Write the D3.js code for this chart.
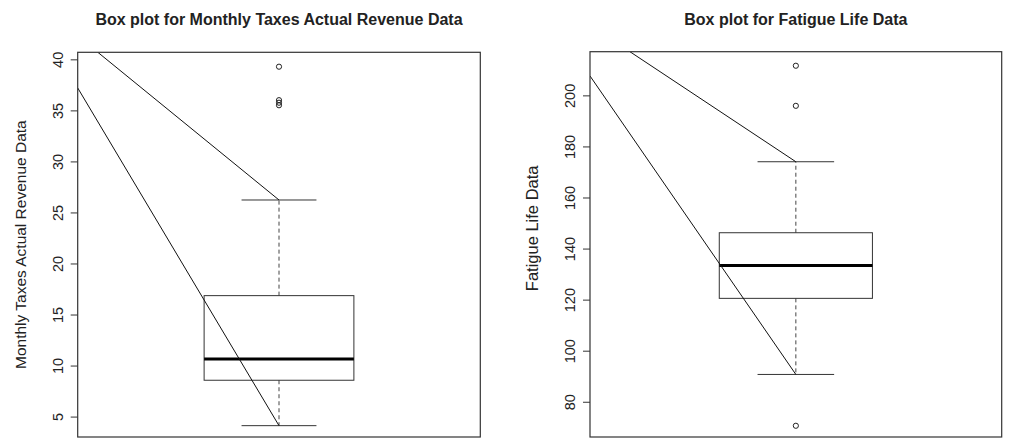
<!DOCTYPE html>
<html>
<head>
<meta charset="utf-8">
<script src="https://cdn.jsdelivr.net/npm/d3@7"></script>
<style>
  html, body { margin: 0; padding: 0; background: #fff; }
  svg { display: block; }
  text { font-family: "Liberation Sans", Arial, Helvetica, sans-serif; fill: #222; }
</style>
</head>
<body>
<svg id="chart" width="1010" height="440"></svg>
<script>
// Panel titles and y-axis titles
const panelTitles = ["Box plot for Monthly Taxes Actual Revenue Data", "Box plot for Fatigue Life Data"];
const axisTitles = ["Monthly Taxes Actual Revenue Data", "Fatigue Life Data"];

// Five-number summaries: lower whisker, Q1, median, Q3, upper whisker
const taxesStats = [4.11, 8.56, 10.65, 16.85, 26.22];
const fatigueStats = [90.7, 120.5, 133.4, 146.2, 174.0];

// Points beyond the whiskers
const taxesOutliers = [39.28, 36.0, 35.75, 35.5];
const fatigueOutliers = [211.6, 195.9, 70.6];

// Tick labels on the value axes
const taxesTicks = [5, 10, 15, 20, 25, 30, 35, 40];
const fatigueTicks = [80, 100, 120, 140, 160, 180, 200];

// Visible value range of each panel
const taxesRange = [3.0, 40.69];
const fatigueRange = [66.2, 217.1];

// Pointer lines: start point [x position, value], drawn to the lower / upper whisker ends
const taxesPointers = [[0.5, 37.2], [0.55, 40.69]];
const fatiguePointers = [[0.5, 207.6], [0.597, 217.1]];

const svg = d3.select("#chart");

const panels = [
  { title: panelTitles[0], ylab: axisTitles[0], stats: taxesStats, out: taxesOutliers,
    ticks: taxesTicks, range: taxesRange, pointers: taxesPointers,
    left: 77.7, right: 480.3, top: 52.3, bottom: 437, labSize: 15.5, labShift: 0 },
  { title: panelTitles[1], ylab: axisTitles[1], stats: fatigueStats, out: fatigueOutliers,
    ticks: fatigueTicks, range: fatigueRange, pointers: fatiguePointers,
    left: 590, right: 1001.7, top: 51.7, bottom: 437, labSize: 16.5, labShift: -16 }
];

const boxHalf = 0.186;   // half box width in x units
const stapleHalf = 0.093;

panels.forEach((p, i) => {
  const x = d3.scaleLinear().domain([0.5, 1.5]).range([p.left, p.right]);
  const y = d3.scaleLinear().domain(p.range).range([p.bottom, p.top]);
  const g = svg.append("g");
  const cx = (p.left + p.right) / 2;
  const cy = (p.top + p.bottom) / 2;

  // title
  g.append("text")
    .attr("x", cx).attr("y", 25)
    .attr("text-anchor", "middle")
    .style("font-weight", "bold")
    .style("font-size", "16px")
    .text(p.title);

  // y axis title
  g.append("text")
    .attr("transform", `translate(${p.left - 52},${cy + p.labShift}) rotate(-90)`)
    .attr("text-anchor", "middle")
    .style("font-size", p.labSize + "px")
    .text(p.ylab);

  // y axis
  const axis = d3.axisLeft(y).tickValues(p.ticks).tickSize(7).tickPadding(0);
  const ag = g.append("g").attr("transform", `translate(${p.left},0)`).call(axis);
  ag.select(".domain").remove();
  ag.selectAll(".tick line").attr("stroke", "#333");
  ag.selectAll(".tick text")
    .attr("x", 0).attr("dy", null)
    .attr("y", -15)
    .attr("transform", "rotate(-90)")
    .attr("text-anchor", "middle")
    .style("font-size", "14.5px")
    .style("fill", "#222");

  // clip region for the plot area
  const clipId = "clip" + i;
  svg.append("clipPath").attr("id", clipId)
    .append("rect")
    .attr("x", p.left).attr("y", p.top)
    .attr("width", p.right - p.left).attr("height", p.bottom - p.top);

  const pg = g.append("g").attr("clip-path", `url(#${clipId})`);
  const [lo, q1, med, q3, hi] = p.stats;

  // whiskers (dashed)
  pg.selectAll("line.whisker")
    .data([[q3, hi], [q1, lo]])
    .enter().append("line")
    .attr("x1", x(1)).attr("x2", x(1))
    .attr("y1", d => y(d[0])).attr("y2", d => y(d[1]))
    .attr("stroke", "#444").attr("stroke-width", 1)
    .attr("stroke-dasharray", "4,3");

  // staples
  pg.selectAll("line.staple")
    .data([lo, hi])
    .enter().append("line")
    .attr("x1", x(1 - stapleHalf)).attr("x2", x(1 + stapleHalf))
    .attr("y1", d => y(d)).attr("y2", d => y(d))
    .attr("stroke", "#333").attr("stroke-width", 1);

  // box
  pg.append("rect")
    .attr("x", x(1 - boxHalf)).attr("width", x(1 + boxHalf) - x(1 - boxHalf))
    .attr("y", y(q3)).attr("height", y(q1) - y(q3))
    .attr("fill", "none").attr("stroke", "#333").attr("stroke-width", 1);

  // median
  pg.append("line")
    .attr("x1", x(1 - boxHalf)).attr("x2", x(1 + boxHalf))
    .attr("y1", y(med)).attr("y2", y(med))
    .attr("stroke", "#000").attr("stroke-width", 3);

  // outliers
  pg.selectAll("circle.out")
    .data(p.out)
    .enter().append("circle")
    .attr("cx", x(1)).attr("cy", d => y(d)).attr("r", 2.6)
    .attr("fill", "none").attr("stroke", "#222").attr("stroke-width", 1);

  // pointer lines to whisker ends
  const ends = [lo, hi];
  pg.selectAll("line.pointer")
    .data(p.pointers)
    .enter().append("line")
    .attr("x1", d => x(d[0])).attr("y1", d => y(d[1]))
    .attr("x2", x(1)).attr("y2", (d, k) => y(ends[k]))
    .attr("stroke", "#111").attr("stroke-width", 1);

  // frame
  g.append("rect")
    .attr("x", p.left).attr("y", p.top)
    .attr("width", p.right - p.left).attr("height", p.bottom - p.top)
    .attr("fill", "none").attr("stroke", "#333").attr("stroke-width", 1.2);
});
</script>
</body>
</html>
